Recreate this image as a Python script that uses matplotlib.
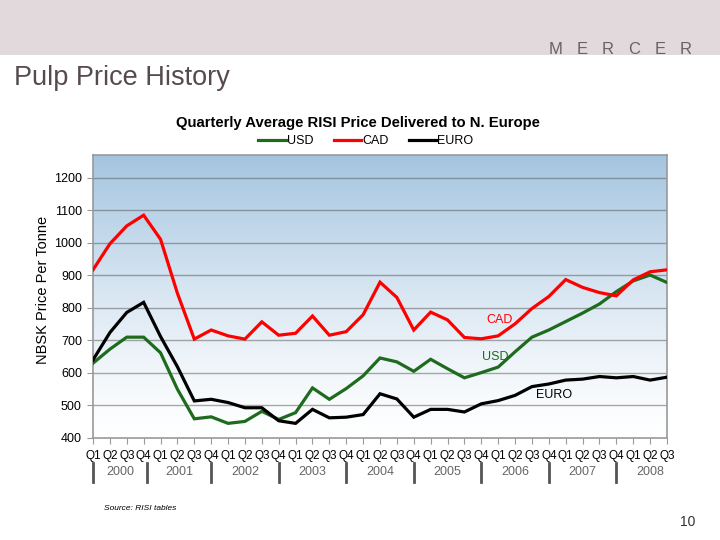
import numpy as np
import matplotlib
matplotlib.use("Agg")
import matplotlib.pyplot as plt
from matplotlib.patches import Rectangle
from matplotlib.lines import Line2D

plt.rcParams['font.family'] = ['Liberation Sans', 'DejaVu Sans']

#-----------------------------------------------------------------------------
# DONNÉES

annees = ['2000', '2001', '2002', '2003', '2004', '2005', '2006', '2007', '2008']
trimestres = (['Q1', 'Q2', 'Q3', 'Q4'] * 9)[:35]

usd = [630, 673, 710, 710, 662, 550, 459, 465, 445, 451,
       482, 457, 478, 554, 519, 552, 591, 646, 634, 605,
       642, 613, 585, 601, 618, 665, 710, 732, 758, 784,
       812, 850, 883, 901, 878]

cad = [917, 997, 1052, 1085, 1011, 845, 704, 732, 714, 704,
       757, 716, 722, 775, 716, 727, 779, 879, 832, 732,
       787, 763, 709, 705, 714, 751, 798, 835, 887, 863,
       847, 837, 886, 911, 917]

euro = [640, 724, 786, 817, 712, 619, 514, 519, 509, 493,
        493, 453, 445, 488, 462, 464, 472, 536, 520, 464,
        488, 488, 480, 505, 515, 531, 558, 566, 578, 581,
        589, 585, 589, 578, 587]

# séparateurs d'années (indice de trimestre)
separateurs = [0, 3.2, 7, 11, 15, 19, 23, 27, 31]

#-----------------------------------------------------------------------------
# FIGURE

fig = plt.figure(figsize=(7.2, 5.4), dpi=100)

# bandeau du haut
fig.patches.append(Rectangle((0, 1 - 55/540), 1, 55/540, transform=fig.transFigure,
                             facecolor='#e2d9dc', edgecolor='none', zorder=0))
for k, lettre in enumerate('MERCER'):
    fig.text((556 + k * 26) / 720, 1 - 50/540, lettre, ha='center', va='center',
             fontsize=12, color='#6b6165')
fig.text(14/720, 1 - 78/540, 'Pulp Price History', ha='left', va='center',
         fontsize=19.5, color='#574a4e')

ax = fig.add_axes([93/720, 1 - 438/540, 574/720, 283/540])

x = np.arange(len(usd))
ymin, ymax = 400, 1270

# fond dégradé bleu -> blanc
grad = np.linspace(0, 1, 256).reshape(-1, 1)
haut = np.array([0.64, 0.77, 0.88])
bas = np.array([1.0, 1.0, 1.0])
img = bas + (haut - bas) * grad[..., None] ** 1.3
ax.imshow(img, extent=[0, len(usd) - 1, ymin, ymax], origin='lower',
          aspect='auto', zorder=0)

for v in range(500, 1300, 100):
    ax.axhline(v, color='#555555', alpha=0.5, lw=1, zorder=1)

ax.plot(x, usd, color='#1e6b1e', lw=2.3, zorder=3, solid_joinstyle='miter')
ax.plot(x, cad, color='#ff0000', lw=2.3, zorder=4, solid_joinstyle='miter')
ax.plot(x, euro, color='#000000', lw=2.3, zorder=3, solid_joinstyle='miter')

ax.text(24.1, 763, 'CAD', color='#ff0000', fontsize=9, ha='center', va='center', zorder=5)
ax.text(23.8, 649, 'USD', color='#1e6b1e', fontsize=9, ha='center', va='center', zorder=5)
ax.text(27.3, 532, 'EURO', color='black', fontsize=9, ha='center', va='center', zorder=5)

ax.set_xlim(0, len(usd) - 1)
ax.set_ylim(ymin, ymax)
ax.set_yticks(range(400, 1300, 100))
ax.set_yticklabels([str(v) for v in range(400, 1300, 100)], fontsize=9)
ax.set_xticks(x)
ax.set_xticklabels(trimestres, fontsize=8.5)
ax.tick_params(axis='x', length=4, color='#999999', pad=5)
ax.tick_params(axis='y', length=4, color='#999999', pad=4)
for s in ax.spines.values():
    s.set_color('#999999')
    s.set_linewidth(1.2)

# ligne des années
fins = separateurs[1:] + [len(usd)]
for debut, fin, an in zip(separateurs, fins, annees):
    ax.text((debut + fin) / 2, -0.12, an, transform=ax.get_xaxis_transform(),
            ha='center', va='center', fontsize=9, color='#666666')
    ax.plot([debut, debut], [-0.088, -0.155], transform=ax.get_xaxis_transform(),
            color='#555555', lw=2, clip_on=False)

fig.text(43/720, 1 - 290/540, 'NBSK Price Per Tonne', rotation=90,
         ha='center', va='center', fontsize=10.5)
fig.text(358/720, 1 - 123/540, 'Quarterly Average RISI Price Delivered to N. Europe',
         ha='center', va='center', fontsize=10.7, fontweight='bold')

poignees = [Line2D([], [], color='#1e6b1e', lw=2.3),
            Line2D([], [], color='#ff0000', lw=2.3),
            Line2D([], [], color='black', lw=2.3)]
fig.legend(poignees, ['USD', 'CAD', 'EURO'], loc='center', ncol=3,
           bbox_to_anchor=(366/720, 1 - 141/540), frameon=False, fontsize=9,
           handlelength=2.2, handletextpad=0.1, columnspacing=1.6)

fig.text(104/720, 1 - 509/540, 'Source: RISI tables', fontsize=6, style='italic',
         ha='left', va='center')
fig.text(688/720, 1 - 522/540, '10', fontsize=10, color='#333333',
         ha='center', va='center')

fig.savefig('out.png', dpi=100)
